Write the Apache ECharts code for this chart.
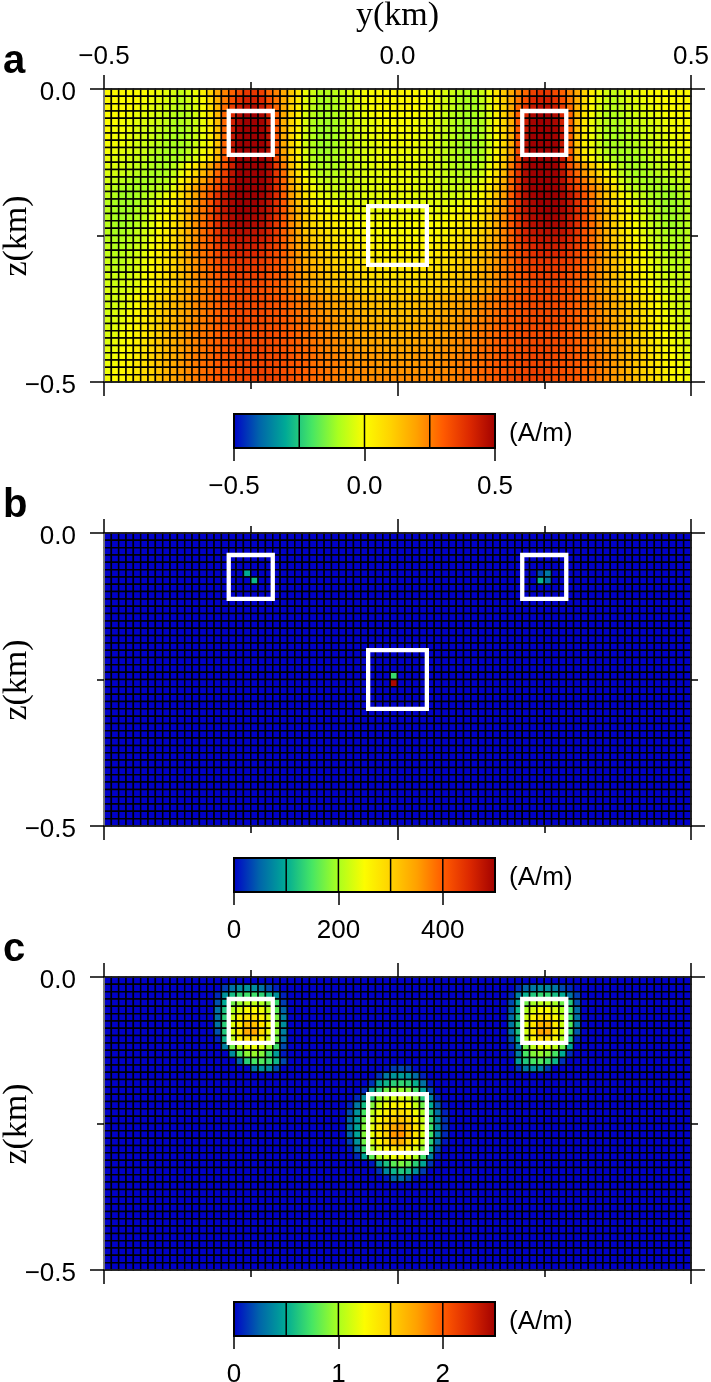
<!DOCTYPE html>
<html>
<head>
<meta charset="utf-8">
<title>Magnetization models</title>
<style>
  html, body { margin: 0; padding: 0; background: #fff; }
  #main { width: 711px; height: 1382px; }
</style>
<script src="https://cdn.jsdelivr.net/npm/echarts@6/dist/echarts.min.js"></script>
</head>
<body>
<div id="main"></div>
<script>
// panel a: one row per z layer, top to bottom, 80 cells wide, in 0.01 A/m
const magA = [
[1,1,1,0,0,0,-1,-2,-3,-5,-7,-5,-2,3,10,18,24,29,33,37,37,35,28,24,18,12,5,-2,-6,-9,-9,-8,-6,-4,-2,-1,0,1,1,2, 2,1,1,0,-1,-2,-4,-6,-8,-9,-9,-6,-2,5,12,18,24,28,35,37,37,33,29,24,18,10,3,-2,-5,-7,-5,-3,-2,-1,0,0,0,1,1,1],
[1,1,0,0,0,-1,-2,-3,-4,-6,-8,-6,-3,1,8,17,25,32,38,42,42,40,32,26,18,11,4,-3,-7,-10,-10,-9,-7,-5,-3,-1,0,1,1,1, 1,1,1,0,-1,-3,-5,-7,-9,-10,-10,-7,-3,4,11,18,26,32,40,42,42,38,32,25,17,8,1,-3,-6,-8,-6,-4,-3,-2,-1,0,0,0,1,1],
[1,0,0,0,-1,-2,-3,-4,-5,-7,-8,-7,-4,0,7,16,27,36,43,46,47,44,37,28,18,10,3,-3,-8,-10,-10,-9,-7,-5,-3,-2,0,0,1,1, 1,1,0,0,-2,-3,-5,-7,-9,-10,-10,-8,-3,3,10,18,28,37,44,47,46,43,36,27,16,7,0,-4,-7,-8,-7,-5,-4,-3,-2,-1,0,0,0,1],
[0,0,0,-1,-2,-3,-4,-5,-6,-8,-9,-8,-5,-1,6,15,28,40,47,50,50,48,41,29,18,10,3,-4,-8,-10,-10,-9,-8,-6,-4,-2,-1,0,0,0, 0,0,0,-1,-2,-4,-6,-8,-9,-10,-10,-8,-4,3,10,18,29,41,48,50,50,47,40,28,15,6,-1,-5,-8,-9,-8,-6,-5,-4,-3,-2,-1,0,0,0],
[0,0,-1,-2,-3,-4,-5,-6,-7,-9,-9,-8,-6,-2,5,14,28,42,48,50,50,49,43,30,17,9,2,-4,-9,-10,-11,-10,-8,-6,-4,-3,-2,-1,0,0, 0,0,-1,-2,-3,-4,-6,-8,-10,-11,-10,-9,-4,2,9,17,30,43,49,50,50,48,42,28,14,5,-2,-6,-8,-9,-9,-7,-6,-5,-4,-3,-2,-1,0,0],
[0,-1,-1,-2,-4,-5,-6,-7,-8,-9,-10,-9,-6,-2,4,14,28,43,49,50,50,49,44,30,17,9,2,-4,-9,-11,-11,-10,-8,-6,-5,-3,-2,-1,-1,0, 0,-1,-1,-2,-3,-5,-6,-8,-10,-11,-11,-9,-4,2,9,17,30,44,49,50,50,49,43,28,14,4,-2,-6,-9,-10,-9,-8,-7,-6,-5,-4,-2,-1,-1,0],
[0,-1,-2,-3,-4,-5,-6,-8,-9,-10,-10,-9,-6,-2,4,13,28,44,49,50,50,50,45,31,17,9,1,-5,-9,-11,-11,-10,-8,-7,-5,-3,-2,-2,-1,-1, -1,-1,-2,-2,-3,-5,-7,-8,-10,-11,-11,-9,-5,1,9,17,31,45,50,50,50,49,44,28,13,4,-2,-6,-9,-10,-10,-9,-8,-6,-5,-4,-3,-2,-1,0],
[-1,-1,-2,-3,-5,-6,-7,-8,-9,-10,-10,-9,-6,-2,3,13,28,44,50,50,50,50,46,32,18,9,1,-5,-9,-11,-11,-10,-8,-7,-5,-4,-3,-2,-1,-1, -1,-1,-2,-3,-4,-5,-7,-8,-10,-11,-11,-9,-5,1,9,18,32,46,50,50,50,50,44,28,13,3,-2,-6,-9,-10,-10,-9,-8,-7,-6,-5,-3,-2,-1,-1],
[-1,-2,-3,-4,-5,-6,-8,-9,-10,-10,-10,-8,-5,-1,4,14,29,44,50,50,50,50,46,33,19,10,2,-4,-9,-11,-11,-10,-8,-7,-5,-4,-3,-2,-2,-1, -1,-2,-2,-3,-4,-5,-7,-8,-10,-11,-11,-9,-4,2,10,19,33,46,50,50,50,50,44,29,14,4,-1,-5,-8,-10,-10,-10,-9,-8,-6,-5,-4,-3,-2,-1],
[-2,-3,-4,-5,-6,-7,-9,-10,-10,-10,-9,-7,-4,0,6,16,30,44,50,50,50,50,47,34,21,11,3,-4,-9,-10,-10,-9,-8,-7,-5,-4,-3,-2,-2,-2, -2,-2,-2,-3,-4,-5,-7,-8,-9,-10,-10,-9,-4,3,11,21,34,47,50,50,50,50,44,30,16,6,0,-4,-7,-9,-10,-10,-10,-9,-7,-6,-5,-4,-3,-2],
[-3,-4,-5,-6,-7,-8,-9,-10,-10,-8,-4,0,5,11,18,25,31,42,50,50,50,50,47,36,25,13,5,-2,-7,-9,-9,-9,-8,-6,-5,-4,-3,-2,-2,-2, -2,-2,-2,-3,-4,-5,-6,-8,-9,-9,-9,-7,-2,5,13,25,36,47,50,50,50,50,42,31,25,18,11,5,0,-4,-8,-10,-10,-9,-8,-7,-6,-5,-4,-3],
[-4,-5,-6,-7,-8,-9,-10,-10,-9,-7,-2,3,9,15,21,28,35,45,50,50,50,50,47,37,27,15,7,0,-5,-8,-8,-8,-7,-6,-5,-4,-3,-3,-2,-2, -2,-2,-3,-3,-4,-5,-6,-7,-8,-8,-8,-5,0,7,15,27,37,47,50,50,50,50,45,35,28,21,15,9,3,-2,-7,-9,-10,-10,-9,-8,-7,-6,-5,-4],
[-5,-7,-8,-9,-10,-10,-10,-9,-8,-5,2,7,14,19,25,31,37,46,50,50,50,50,47,38,28,17,9,2,-3,-6,-7,-7,-7,-6,-5,-4,-3,-3,-2,-2, -2,-2,-3,-3,-4,-5,-6,-7,-7,-7,-6,-3,2,9,17,28,38,47,50,50,50,50,46,37,31,25,19,14,7,2,-5,-8,-9,-10,-10,-10,-9,-8,-7,-5],
[-6,-8,-10,-10,-10,-10,-9,-8,-7,-3,6,12,19,24,28,33,39,47,50,50,50,50,46,38,28,19,11,4,-1,-4,-5,-6,-6,-5,-4,-4,-3,-3,-2,-2, -2,-2,-3,-3,-4,-4,-5,-6,-6,-5,-4,-1,4,11,19,28,38,46,50,50,50,50,47,39,33,28,24,19,12,6,-3,-7,-8,-9,-10,-10,-10,-10,-8,-6],
[-7,-9,-11,-11,-10,-9,-7,-5,-2,2,7,13,19,25,31,38,44,48,50,50,50,49,46,39,29,20,13,6,1,-2,-3,-4,-5,-4,-4,-3,-3,-3,-2,-2, -2,-2,-3,-3,-3,-4,-4,-5,-4,-3,-2,1,6,13,20,29,39,46,49,50,50,50,48,44,38,31,25,19,13,7,2,-2,-5,-7,-9,-10,-11,-11,-9,-7],
[-8,-10,-11,-11,-10,-8,-6,-3,-1,3,8,14,20,26,31,38,44,48,50,50,50,48,45,38,30,21,14,8,3,0,-1,-2,-3,-3,-3,-3,-3,-3,-2,-2, -2,-2,-3,-3,-3,-3,-3,-3,-2,-1,0,3,8,14,21,30,38,45,48,50,50,50,48,44,38,31,26,20,14,8,3,-1,-3,-6,-8,-10,-11,-11,-10,-8],
[-8,-10,-11,-11,-9,-7,-5,-2,1,4,9,15,21,26,31,38,44,48,50,50,49,47,44,38,30,22,15,10,5,2,1,0,-1,-2,-2,-2,-2,-2,-2,-1, -1,-2,-2,-2,-2,-2,-2,-1,0,1,2,5,10,15,22,30,38,44,47,49,50,50,48,44,38,31,26,21,15,9,4,1,-2,-5,-7,-9,-11,-11,-10,-8],
[-8,-10,-11,-10,-9,-7,-4,-1,2,5,10,16,21,26,32,38,43,47,49,49,48,47,43,37,30,23,17,11,7,4,3,2,1,0,-1,-1,-1,-1,-1,-1, -1,-1,-1,-1,-1,-1,0,1,2,3,4,7,11,17,23,30,37,43,47,48,49,49,47,43,38,32,26,21,16,10,5,2,-1,-4,-7,-9,-10,-11,-10,-8],
[-8,-10,-11,-10,-8,-6,-3,0,3,6,11,16,22,27,32,38,43,47,48,48,47,46,42,36,30,23,18,12,8,6,5,4,2,1,0,0,0,0,0,0, 0,0,0,0,0,0,1,2,4,5,6,8,12,18,23,30,36,42,46,47,48,48,47,43,38,32,27,22,16,11,6,3,0,-3,-6,-8,-10,-11,-10,-8],
[-8,-10,-10,-9,-7,-5,-3,0,3,7,12,17,22,27,31,37,42,45,46,46,45,44,41,36,29,24,18,13,10,8,6,5,3,2,1,1,0,0,0,0, 0,0,0,0,1,1,2,3,5,6,8,10,13,18,24,29,36,41,44,45,46,46,45,42,37,31,27,22,17,12,7,3,0,-3,-5,-7,-9,-10,-10,-8],
[-8,-9,-9,-8,-7,-5,-2,1,4,8,12,17,22,27,31,36,40,43,44,44,44,42,40,35,29,24,19,15,11,9,7,6,4,3,2,2,1,1,1,1, 1,1,1,1,2,2,3,4,6,7,9,11,15,19,24,29,35,40,42,44,44,44,43,40,36,31,27,22,17,12,8,4,1,-2,-5,-7,-8,-9,-9,-8],
[-7,-9,-9,-8,-6,-4,-1,2,5,8,13,18,23,27,30,35,38,41,42,42,42,40,37,34,29,24,20,16,13,11,9,7,6,5,4,3,2,2,2,2, 2,2,2,2,3,4,5,6,7,9,11,13,16,20,24,29,34,37,40,42,42,42,41,38,35,30,27,23,18,13,8,5,2,-1,-4,-6,-8,-9,-9,-7],
[-7,-8,-8,-7,-5,-3,0,3,6,9,13,18,23,26,29,33,36,39,40,40,40,38,35,32,29,25,21,17,14,12,10,9,7,6,5,4,3,3,3,3, 3,3,3,3,4,5,6,7,9,10,12,14,17,21,25,29,32,35,38,40,40,40,39,36,33,29,26,23,18,13,9,6,3,0,-3,-5,-7,-8,-8,-7],
[-6,-8,-8,-6,-4,-2,1,3,6,10,14,18,22,26,29,32,35,36,37,37,37,36,34,32,28,25,21,18,15,13,11,10,8,7,6,5,5,4,4,4, 4,4,4,5,5,6,7,8,10,11,13,15,18,21,25,28,32,34,36,37,37,37,36,35,32,29,26,22,18,14,10,6,3,1,-2,-4,-6,-8,-8,-6],
[-6,-7,-7,-6,-4,-2,1,4,7,10,14,18,22,25,28,31,33,35,36,36,36,35,33,31,28,25,22,19,16,14,12,11,9,8,7,7,6,6,5,5, 5,5,6,6,7,7,8,9,11,12,14,16,19,22,25,28,31,33,35,36,36,36,35,33,31,28,25,22,18,14,10,7,4,1,-2,-4,-6,-7,-7,-6],
[-5,-6,-6,-5,-3,-1,2,4,7,11,14,18,22,25,28,30,32,34,35,35,35,34,32,30,28,25,22,19,17,15,13,12,11,10,9,8,7,7,6,6, 6,6,7,7,8,9,10,11,12,13,15,17,19,22,25,28,30,32,34,35,35,35,34,32,30,28,25,22,18,14,11,7,4,2,-1,-3,-5,-6,-6,-5],
[-5,-6,-5,-4,-3,0,2,5,8,11,14,18,21,24,27,29,31,33,34,34,34,33,31,30,27,25,22,20,18,16,14,13,12,11,10,9,8,8,8,8, 8,8,8,8,9,10,11,12,13,14,16,18,20,22,25,27,30,31,33,34,34,34,33,31,29,27,24,21,18,14,11,8,5,2,0,-3,-4,-5,-6,-5],
[-4,-5,-5,-4,-2,0,3,5,8,11,15,18,21,24,26,29,31,32,33,33,33,32,31,29,27,25,23,20,18,17,15,14,13,12,11,10,10,9,9,9, 9,9,9,10,10,11,12,13,14,15,17,18,20,23,25,27,29,31,32,33,33,33,32,31,29,26,24,21,18,15,11,8,5,3,0,-2,-4,-5,-5,-4],
[-5,-5,-4,-2,0,3,5,8,11,14,17,20,22,25,27,29,31,32,33,34,34,33,32,31,29,27,26,24,22,21,19,18,17,16,15,14,13,13,12,12, 12,12,13,13,14,15,16,17,18,19,21,22,24,26,27,29,31,32,33,34,34,33,32,31,29,27,25,22,20,17,14,11,8,5,3,0,-2,-4,-5,-5],
[-5,-5,-4,-2,0,3,6,9,12,15,17,20,23,25,27,29,30,32,33,33,33,33,32,31,29,28,26,25,23,22,20,19,18,17,16,15,14,14,13,13, 13,13,14,14,15,16,17,18,19,20,22,23,25,26,28,29,31,32,33,33,33,33,32,30,29,27,25,23,20,17,15,12,9,6,3,0,-2,-4,-5,-5],
[-5,-4,-3,-1,1,4,7,10,13,15,18,20,23,25,27,29,30,32,33,33,33,33,32,31,30,28,27,25,24,22,21,20,19,18,17,16,15,15,14,14, 14,14,15,15,16,17,18,19,20,21,22,24,25,27,28,30,31,32,33,33,33,33,32,30,29,27,25,23,20,18,15,13,10,7,4,1,-1,-3,-4,-5],
[-5,-4,-3,-1,2,4,7,10,13,16,18,21,23,25,27,29,30,32,33,33,33,33,32,31,30,29,27,26,24,23,22,21,19,19,18,17,16,16,15,15, 15,15,16,16,17,18,19,19,21,22,23,24,26,27,29,30,31,32,33,33,33,33,32,30,29,27,25,23,21,18,16,13,10,7,4,2,-1,-3,-4,-5],
[-4,-3,-2,0,2,5,8,11,14,16,19,21,24,25,27,29,30,32,33,33,33,33,32,32,30,29,28,26,25,24,23,21,20,19,19,18,17,17,16,16, 16,16,17,17,18,19,19,20,21,23,24,25,26,28,29,30,32,32,33,33,33,33,32,30,29,27,25,24,21,19,16,14,11,8,5,2,0,-2,-3,-4],
[-4,-3,-1,0,3,5,8,11,14,17,19,22,24,26,27,29,30,32,33,33,33,33,33,32,31,30,28,27,26,24,23,22,21,20,19,19,18,18,17,17, 17,17,18,18,19,19,20,21,22,23,24,26,27,28,30,31,32,33,33,33,33,33,32,30,29,27,26,24,22,19,17,14,11,8,5,3,0,-1,-3,-4],
[-4,-2,-1,1,3,6,9,12,15,17,20,22,24,26,28,29,31,32,33,33,34,33,33,32,31,30,29,27,26,25,24,23,22,21,20,19,19,19,18,18, 18,18,19,19,19,20,21,22,23,24,25,26,27,29,30,31,32,33,33,34,33,33,32,31,29,28,26,24,22,20,17,15,12,9,6,3,1,-1,-2,-4],
[-3,-2,0,1,4,6,9,12,15,18,20,22,24,26,28,29,31,32,33,34,34,34,33,32,31,30,29,28,27,25,24,23,22,22,21,20,20,20,19,19, 19,19,20,20,20,21,22,22,23,24,25,27,28,29,30,31,32,33,34,34,34,33,32,31,29,28,26,24,22,20,18,15,12,9,6,4,1,0,-2,-3],
[-3,-1,0,2,4,7,10,13,16,18,20,23,25,26,28,30,31,32,33,34,34,34,33,33,32,31,29,28,27,26,25,24,23,22,22,21,21,21,20,20, 20,20,21,21,21,22,22,23,24,25,26,27,28,29,31,32,33,33,34,34,34,33,32,31,30,28,26,25,23,20,18,16,13,10,7,4,2,0,-1,-3],
[-2,-1,1,2,5,7,10,13,16,18,21,23,25,27,28,30,31,32,33,34,34,34,34,33,32,31,30,29,27,26,25,25,24,23,22,22,22,21,21,21, 21,21,21,22,22,22,23,24,25,25,26,27,29,30,31,32,33,34,34,34,34,33,32,31,30,28,27,25,23,21,18,16,13,10,7,5,2,1,-1,-2],
[-2,0,1,3,5,8,10,13,16,19,21,23,25,27,28,30,31,32,33,34,35,35,34,33,32,31,30,29,28,27,26,25,24,23,23,23,22,22,22,22, 22,22,22,22,23,23,23,24,25,26,27,28,29,30,31,32,33,34,35,35,34,33,32,31,30,28,27,25,23,21,19,16,13,10,8,5,3,1,0,-2],
[-1,0,1,3,6,8,10,14,17,19,21,23,25,27,29,30,31,32,33,34,35,35,35,34,33,32,30,29,28,27,26,25,24,24,23,23,23,23,23,23, 23,23,23,23,23,23,24,24,25,26,27,28,29,30,32,33,34,35,35,35,34,33,32,31,30,29,27,25,23,21,19,17,14,10,8,6,3,1,0,-1]
];
// panel b: only the non-background cells, [col, row, A/m]
const magB = [[19,5,100],[20,6,110],[59,5,35],[60,5,65],[59,6,105],[60,6,60],[39,19,140],[39,20,490]];
// panel c: only the non-background runs, [row, first col, values in 0.01 A/m ...]
const magCLeft = [
[1,16,15,30,38,42,40,30,18,8],
[2,15,10,42,58,68,72,72,66,55,40,8],
[3,15,20,50,85,95,105,105,100,90,70,15],
[4,15,30,60,100,115,125,125,120,105,80,25],
[5,15,30,65,110,130,140,140,130,115,88,35],
[6,15,30,65,115,135,160,160,140,120,92,40],
[7,15,20,62,115,140,170,172,145,120,92,35],
[8,15,8,55,105,130,145,148,130,112,85,30],
[9,16,35,85,105,118,120,112,95,70,18],
[10,17,40,75,92,95,90,70,45,6],
[11,18,25,65,75,78,70,55,18],
[12,20,30,42,38,18]
];
const magCRight = [
[1,56,12,25,33,38,38,32,18,10,3],
[2,55,8,35,52,62,68,68,58,50,30,15],
[3,55,18,48,85,98,105,105,98,85,62,20],
[4,55,22,55,100,115,125,125,115,100,72,28],
[5,55,28,60,110,130,140,140,125,105,75,30],
[6,55,32,62,115,140,165,165,135,110,78,32],
[7,55,28,60,112,140,172,172,135,110,72,22],
[8,55,18,52,105,130,145,145,125,100,60,8],
[9,55,8,35,85,105,118,115,105,85,48],
[10,55,5,35,75,90,95,90,75,50,10],
[11,56,45,62,75,78,70,55,12],
[12,56,12,32,40,35,15]
];
const magCMid = [
[12,38,3,15,18,15,3],
[13,37,12,32,42,45,42,28,8],
[14,36,12,45,55,65,68,65,52,30,5],
[15,35,10,45,65,85,92,95,90,72,48,18],
[16,34,10,40,65,95,105,112,115,110,95,65,35,8],
[17,33,8,32,58,90,110,120,128,130,125,108,85,50,20,3],
[18,33,18,42,75,105,120,132,142,145,138,122,100,62,30,8],
[19,33,25,45,85,112,130,142,155,158,150,132,108,70,35,12],
[20,33,28,48,90,118,138,152,172,175,160,140,112,72,38,12],
[21,33,25,48,90,118,138,152,178,180,160,140,112,72,35,10],
[22,33,15,42,85,112,130,145,165,168,150,132,105,65,28,5],
[23,33,5,30,70,100,118,130,140,142,132,118,92,55,15],
[24,34,10,48,80,100,112,120,122,115,100,72,35,5],
[25,36,5,40,60,80,88,82,65,48,12],
[26,37,12,38,55,62,58,40,15],
[27,38,5,25,28,18,3]
];
// white prism outlines, [y min, y max, z min, z max] in km
const prisms = [[-0.2875,-0.2125,-0.1125,-0.0375],[0.2125,0.2875,-0.1125,-0.0375],[-0.05,0.05,-0.3,-0.2]];
// colour ramp, evenly spaced from scale min to scale max
const ramp = ['#0000c8','#0064aa','#00aa96','#46e664','#aaff1e','#fcfc00','#ffd200','#ffa000','#ff5a00','#dc2800','#a00000'];
const panelTops = [89,533,977];
const barTops = [414,858,1302];
const barMins = [-0.5,0,0];
const barMaxs = [0.5,500,2.5];
const barLines = [[-0.25,0,0.25],[100,200,300,400],[0.5,1,1.5,2]];
const barTicks = [[-0.5,0,0.5],[0,200,400],[0,1,2]];
const letters = ['a','b','c'];
const cellSize = 0.0125;

const minus = s => String(s).replace('-', '\u2212');
const kmLabel = v => minus(v.toFixed(1));

function toCell(col, row, v) {
  return [-0.5 + (col + 0.5) * cellSize, -(row + 0.5) * cellSize, v];
}
function emptyField() {
  const out = [];
  for (let r = 0; r < 40; r++) out.push(new Array(80).fill(0));
  return out;
}
function cellsA() {
  const out = [];
  magA.forEach((line, r) => line.forEach((v, c) => out.push(toCell(c, r, v / 100))));
  return out;
}
function cellsB() {
  const f = emptyField();
  magB.forEach(d => { f[d[1]][d[0]] = d[2]; });
  const out = [];
  f.forEach((line, r) => line.forEach((v, c) => out.push(toCell(c, r, v))));
  return out;
}
function cellsC() {
  const f = emptyField();
  magCLeft.concat(magCRight, magCMid).forEach(d => {
    for (let i = 2; i < d.length; i++) f[d[0]][d[1] + i - 2] = d[i] / 100;
  });
  const out = [];
  f.forEach((line, r) => line.forEach((v, c) => out.push(toCell(c, r, v))));
  return out;
}
const fields = [cellsA(), cellsB(), cellsC()];

function renderCell(params, api) {
  const p0 = api.coord([api.value(0) - cellSize / 2, api.value(1) + cellSize / 2]);
  const p1 = api.coord([api.value(0) + cellSize / 2, api.value(1) - cellSize / 2]);
  return {
    type: 'rect',
    shape: { x: p0[0], y: p0[1], width: p1[0] - p0[0], height: p1[1] - p0[1] },
    style: { fill: api.visual('color'), stroke: '#000', lineWidth: 1.5 }
  };
}
function renderPrism(params, api) {
  const p0 = api.coord([api.value(0), api.value(3)]);
  const p1 = api.coord([api.value(1), api.value(2)]);
  return {
    type: 'rect',
    shape: { x: p0[0], y: p0[1], width: p1[0] - p0[0], height: p1[1] - p0[1] },
    style: { fill: 'none', stroke: '#fff', lineWidth: 4.3 }
  };
}
const barGradient = new echarts.graphic.LinearGradient(0, 0, 1, 0,
  ramp.map((c, i) => ({ offset: i / (ramp.length - 1), color: c })));
function renderBar(params, api) {
  const p0 = api.coord([api.value(0), 1]);
  const p1 = api.coord([api.value(1), 0]);
  return {
    type: 'rect',
    shape: { x: p0[0], y: p0[1], width: p1[0] - p0[0], height: p1[1] - p0[1] },
    style: { fill: barGradient, stroke: '#000', lineWidth: 2 }
  };
}
function renderBarLine(params, api) {
  const p0 = api.coord([api.value(0), 1]);
  const p1 = api.coord([api.value(0), 0]);
  return {
    type: 'line',
    shape: { x1: p0[0], y1: p0[1], x2: p1[0], y2: p1[1] },
    style: { stroke: '#000', lineWidth: 1.5 }
  };
}

const tickStyle = { color: '#000', width: 1.5 };
const labelFont = { fontFamily: 'Liberation Sans', fontSize: 26, color: '#000' };

const grids = [], xAxes = [], yAxes = [], series = [], visualMaps = [], texts = [];

panelTops.forEach((top, i) => {
  // map panel, axes 0/1 carry data, 2 is the colour bar
  grids.push({ left: 104, top: top, width: 587, height: 293, outerBoundsMode: 'none' });
  grids.push({ left: 234, top: barTops[i], width: 261, height: 34, outerBoundsMode: 'none' });
  const g = i * 2;
  const xBase = xAxes.length, yBase = yAxes.length;

  const mapX = {
    type: 'value', gridIndex: g, min: -0.5, max: 0.5, interval: 0.5, z: 5,
    splitLine: { show: false },
    axisLine: { onZero: false, lineStyle: { color: '#222', width: 1.5 } },
    axisTick: { show: true, length: 14, lineStyle: tickStyle },
    minorTick: { show: true, splitNumber: 2, length: 7, lineStyle: tickStyle }
  };
  xAxes.push(Object.assign({}, mapX, {
    position: 'top',
    name: i === 0 ? 'y(km)' : '',
    nameLocation: 'middle',
    nameGap: 56,
    nameTextStyle: { fontFamily: 'Liberation Serif', fontSize: 34, color: '#000' },
    axisLabel: Object.assign({ show: i === 0, margin: 19, formatter: kmLabel, hideOverlap: false }, labelFont)
  }));
  xAxes.push(Object.assign({}, mapX, { position: 'bottom', axisLabel: { show: false } }));

  const mapY = {
    type: 'value', gridIndex: g, min: -0.5, max: 0, interval: 0.5, z: 5,
    splitLine: { show: false },
    axisLine: { onZero: false, lineStyle: { color: '#222', width: 1.5 } },
    axisTick: { show: true, length: 14, lineStyle: tickStyle },
    minorTick: { show: true, splitNumber: 2, length: 7, lineStyle: tickStyle }
  };
  yAxes.push(Object.assign({}, mapY, {
    position: 'left',
    axisLine: { onZero: false, lineStyle: { color: '#999', width: 1.5 } },
    axisLabel: {
      margin: 28,
      formatter: v => '{v|' + kmLabel(v) + '}',
      rich: { v: Object.assign({ padding: [8, 0, 0, 0] }, labelFont) }
    }
  }));
  yAxes.push(Object.assign({}, mapY, { position: 'right', axisLabel: { show: false } }));

  // colour bar
  xAxes.push({
    type: 'value', gridIndex: g + 1, position: 'bottom', z: 5,
    min: barMins[i], max: barMaxs[i], interval: barMaxs[i] - barMins[i],
    axisLine: { onZero: false, lineStyle: { color: '#000', width: 2 } },
    splitLine: { show: false },
    axisTick: { show: true, length: 13, customValues: barTicks[i], lineStyle: tickStyle },
    axisLabel: Object.assign({
      margin: 26,
      customValues: barTicks[i],
      formatter: v => i === 0 ? minus(v.toFixed(1)) : String(v)
    }, labelFont)
  });
  yAxes.push({ type: 'value', gridIndex: g + 1, min: 0, max: 1, show: false });

  const cellIndex = series.length;
  series.push({
    type: 'custom', xAxisIndex: xBase, yAxisIndex: yBase, clip: false, silent: true, progressive: 0,
    encode: { x: 0, y: 1 }, renderItem: renderCell, data: fields[i], z: 2
  });
  series.push({
    type: 'custom', xAxisIndex: xBase, yAxisIndex: yBase, clip: false, silent: true, progressive: 0,
    encode: { x: [0, 1], y: [2, 3] }, renderItem: renderPrism, data: prisms, z: 8
  });
  series.push({
    type: 'custom', xAxisIndex: xBase + 2, yAxisIndex: yBase + 2, clip: false, silent: true, progressive: 0,
    encode: { x: [0, 1] }, renderItem: renderBar, data: [[barMins[i], barMaxs[i]]], z: 2
  });
  series.push({
    type: 'custom', xAxisIndex: xBase + 2, yAxisIndex: yBase + 2, clip: false, silent: true, progressive: 0,
    encode: { x: 0 }, renderItem: renderBarLine, data: barLines[i].map(v => [v]), z: 3
  });
  visualMaps.push({
    show: false, type: 'continuous', seriesIndex: cellIndex, dimension: 2,
    min: barMins[i], max: barMaxs[i], inRange: { color: ramp }
  });

  texts.push({
    type: 'text', left: 3, top: top - 47, silent: true,
    style: { text: letters[i], font: 'bold 40px "Liberation Sans"', fill: '#000' }
  });
  texts.push({
    type: 'text', left: 509, top: barTops[i] + 7, silent: true,
    style: { text: '(A/m)', font: '26px "Liberation Sans"', fill: '#000' }
  });
  // rotated axis title
  texts.push({
    type: 'text', x: 17, y: top + 147, rotation: Math.PI / 2, silent: true,
    style: { text: 'z(km)', font: '34px "Liberation Serif"', fill: '#000', align: 'center', verticalAlign: 'middle' }
  });
});

const myChart = echarts.init(document.getElementById('main'), null, { renderer: 'canvas' });
myChart.setOption({
  animation: false,
  backgroundColor: '#fff',
  grid: grids,
  xAxis: xAxes,
  yAxis: yAxes,
  visualMap: visualMaps,
  series: series,
  graphic: texts
});
</script>
</body>
</html>
